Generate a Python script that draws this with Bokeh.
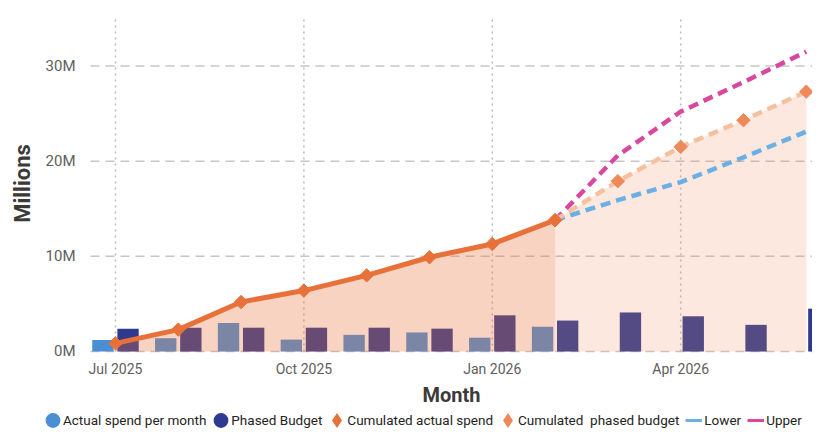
import numpy as np
from bokeh.plotting import figure
from bokeh.models import ColumnDataSource, FixedTicker, Legend, LegendItem, Range1d
from bokeh.transform import dodge
from bokeh.embed import file_html
from bokeh.resources import INLINE

# ---------------- data (values in millions) ----------------
months = ["Jul 2025", "Aug 2025", "Sep 2025", "Oct 2025", "Nov 2025", "Dec 2025",
          "Jan 2026", "Feb 2026", "Mar 2026", "Apr 2026", "May 2026", "Jun 2026"]
actual_spend = [1.2, 1.4, 3.0, 1.25, 1.75, 2.0, 1.45, 2.6]          # Jul 2025 - Feb 2026
phased_budget = [2.4, 2.5, 2.5, 2.5, 2.5, 2.4, 3.8, 3.25, 4.1, 3.7, 2.8, 4.5]
cum_actual = [0.85, 2.3, 5.2, 6.4, 8.0, 9.9, 11.3, 13.8]             # Jul 2025 - Feb 2026
cum_budget = [13.8, 17.9, 21.5, 24.3, 27.3]                          # Feb 2026 - Jun 2026
lower = [13.8, 15.9, 17.8, 20.4, 23.1]                               # Feb 2026 - Jun 2026
upper = [13.8, 20.6, 25.2, 28.3, 31.5]                               # Feb 2026 - Jun 2026
tick_labels = ["Jul 2025", "Oct 2025", "Jan 2026", "Apr 2026"]
y_ticks = [0, 10, 20, 30]
y_tick_labels = ["0M", "10M", "20M", "30M"]
legend_labels = ["Actual spend per month", "Phased Budget", "Cumulated actual spend",
                 "Cumulated  phased budget", "Lower", "Upper"]

FONT = "Roboto"
C_ACT_BAR = "#4A8FD6"
C_BUDGET = "#2E3A8F"
C_CUM_ACT = "#E8713A"
C_CUM_BUD = "#EE8A5A"
C_CUM_BUD_LINE = "#F6C0A0"
C_LOWER = "#6AAFE6"
C_UPPER = "#D9489F"
C_GRID = "#C8C6C4"

# plot window (axis positions) -- layout, not data
X_LEFT, X_START, X_END = -0.398, -1.831, 11.099
Y_BOTTOM, Y_END = -8.09, 35.3

idx = list(range(len(months)))
n_act = len(actual_spend)
fc_idx = idx[n_act - 1:]
x_tick_pos = [idx[months.index(t)] for t in tick_labels]

src_act = ColumnDataSource(dict(x=idx[:n_act], v=actual_spend, c=cum_actual))
src_bud = ColumnDataSource(dict(x=idx, v=phased_budget))
src_fc = ColumnDataSource(dict(x=fc_idx, b=cum_budget, lo=lower, up=upper))

p = figure(width=812, height=428, x_range=Range1d(X_START, X_END), y_range=Range1d(Y_BOTTOM, Y_END),
           output_backend="svg", toolbar_location=None,
           min_border_left=0, min_border_right=0, min_border_top=15, min_border_bottom=0)
p.outline_line_color = None
p.background_fill_color = "white"
p.border_fill_color = "white"
p.xgrid.visible = False
p.ygrid.visible = False

# grid lines limited to the plotting area
p.segment(x0=x_tick_pos, x1=x_tick_pos, y0=[0] * len(x_tick_pos), y1=[Y_END] * len(x_tick_pos),
          line_color="#BDBBB9", line_dash="2 4", line_width=1.5)
p.segment(x0=[X_LEFT] * len(y_ticks), x1=[X_END] * len(y_ticks), y0=y_ticks, y1=y_ticks,
          line_color=C_GRID, line_dash="9 6", line_width=1.5)

# bars
p.vbar(x=dodge("x", -0.2, range=p.x_range), top="v", width=0.34, source=src_act,
       fill_color=C_ACT_BAR, line_color=None)
p.vbar(x=dodge("x", 0.2, range=p.x_range), top="v", width=0.34, source=src_bud,
       fill_color=C_BUDGET, line_color=None)

# areas
p.varea(x="x", y1=0, y2="c", source=src_act, fill_color=C_CUM_ACT, fill_alpha=0.31)
p.varea(x="x", y1=0, y2="b", source=src_fc, fill_color=C_CUM_BUD, fill_alpha=0.2)

# lines
p.line(x="x", y="lo", source=src_fc, line_color=C_LOWER, line_width=4.5, line_dash="10 6")
p.line(x="x", y="up", source=src_fc, line_color=C_UPPER, line_width=4.5, line_dash="10 6")
p.line(x="x", y="b", source=src_fc, line_color=C_CUM_BUD_LINE, line_width=4.5, line_dash="10 6")
p.line(x="x", y="c", source=src_act, line_color=C_CUM_ACT, line_width=5)
p.scatter(x="x", y="b", source=src_fc, marker="square", angle=np.pi / 4, size=9.5,
          color=C_CUM_BUD)
p.scatter(x="x", y="c", source=src_act, marker="square", angle=np.pi / 4, size=9.5,
          color=C_CUM_ACT)

# axes (pinned at the plotting-area edges, labels centred on the plotting area)
p.xaxis.fixed_location = 0
p.yaxis.fixed_location = X_LEFT
p.xaxis.bounds = (X_LEFT, X_END)
p.yaxis.bounds = (0, Y_END)
p.xaxis.ticker = FixedTicker(ticks=x_tick_pos)
p.xaxis.major_label_overrides = dict(zip(x_tick_pos, tick_labels))
p.yaxis.ticker = FixedTicker(ticks=y_ticks)
p.yaxis.major_label_overrides = dict(zip(y_ticks, y_tick_labels))
for ax in (p.xaxis, p.yaxis):
    ax.axis_line_color = None
    ax.major_tick_line_color = None
    ax.minor_tick_line_color = None
    ax.major_label_text_font = FONT
    ax.major_label_text_color = "#605E5C"
    ax.axis_label_text_font = FONT
    ax.axis_label_text_font_style = "bold"
    ax.axis_label_text_color = "#3B3A39"
p.xaxis.major_label_text_font_size = "14px"
p.yaxis.major_label_text_font_size = "15px"
p.xaxis.axis_label_text_font_size = "20px"
p.yaxis.axis_label_text_font_size = "22px"
p.xaxis.axis_label = "Month"
p.yaxis.axis_label = "Millions"
p.xaxis.major_label_standoff = 4
p.xaxis.axis_label_standoff = 2
p.yaxis.major_label_standoff = 9
p.yaxis.axis_label_standoff = 8

# ---------------- legend (proxy renderers carry no visible data) ----------------
nan = [np.nan]
proxies = [
    p.scatter(x=nan, y=nan, marker="circle", color=C_ACT_BAR, line_width=8),
    p.scatter(x=nan, y=nan, marker="circle", color=C_BUDGET, line_width=8),
    p.scatter(x=nan, y=nan, marker="diamond", color=C_CUM_ACT, line_width=4.5, line_join="miter"),
    p.scatter(x=nan, y=nan, marker="diamond", color=C_CUM_BUD, line_width=4.5, line_join="miter"),
    p.line(x=nan, y=nan, line_color=C_LOWER, line_width=3),
    p.line(x=nan, y=nan, line_color=C_UPPER, line_width=3),
]
legend = Legend(items=[LegendItem(label=l, renderers=[r]) for l, r in zip(legend_labels, proxies)],
                orientation="horizontal", location=(44, -2), glyph_width=17, glyph_height=20,
                label_standoff=2, spacing=6, padding=0, margin=0, border_line_color=None,
                background_fill_alpha=0, label_text_font=FONT, label_text_font_size="13.5px",
                label_text_color="#252423", label_height=20)
p.add_layout(legend)

open("out.html", "w").write(file_html(p, INLINE))
